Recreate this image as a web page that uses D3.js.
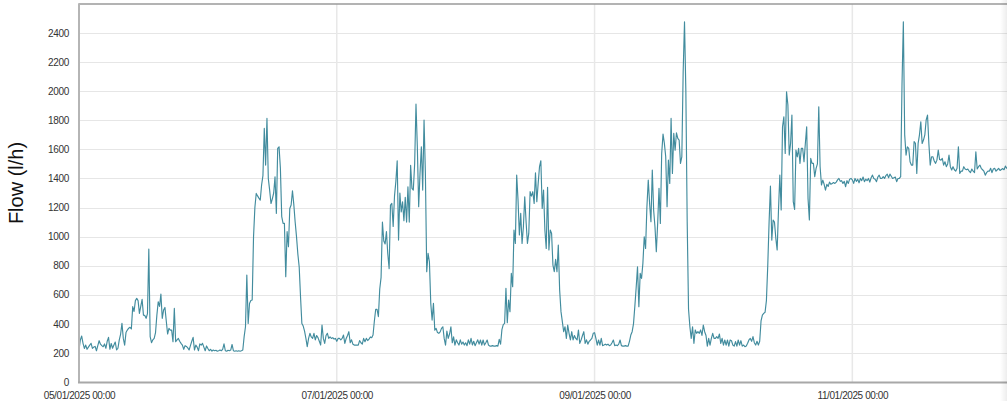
<!DOCTYPE html>
<html><head><meta charset="utf-8">
<script src="https://cdn.jsdelivr.net/npm/d3@7"></script>
<style>
html,body{margin:0;padding:0;background:#fff;overflow:hidden;}
svg{display:block;font-family:"Liberation Sans",Arial,sans-serif;}
</style>
</head><body>
<svg id="chart" width="1007" height="401"></svg>
<script>
// ---- data: flow in l/h, one value every 15 minutes, starting 05/01/2025 00:00 ----
const startDate = new Date(2025, 0, 5, 0, 0);
const intervalMinutes = 15;
const day05 = [220,290,316,266,231,254,225,240,254,266,231,240,245,215,250,284,260,250,243,262,232,280,307,225,265,232,255,275,220,232,290,330,403,300,254,340,357,370,376,365,518,485,560,575,560,472,520,568,460,458,438,470,914,312,270,290,300,340,460,552,520,605,438,495,513,420,330,369,357,357,277,506,277,290,300,280,266,254,225,250,245,235,220,250,280,307,220,254,240,215,262,254,266,240,215,248];
const day06 = [230,215,225,212,220,215,218,212,215,220,215,225,262,215,212,218,215,220,258,215,212,215,212,215,212,215,220,312,380,736,403,540,560,564,1000,1200,1297,1280,1265,1251,1355,1420,1744,1492,1813,1400,1320,1228,1260,1300,1412,1160,1607,1618,1470,1137,1091,1091,724,1034,930,1194,1217,1315,1220,1100,1000,880,793,587,403,385,350,300,243,300,335,310,300,335,290,320,305,280,254,392,300,266,320,335,300,310,300,305,295,300];
const day07 = [280,300,300,290,300,323,266,300,320,346,270,290,260,254,254,254,254,285,270,260,300,277,300,285,295,310,305,323,420,500,500,450,640,720,1100,970,950,1034,880,780,1217,1228,1070,1280,1378,1522,976,1300,1170,1240,1110,1270,1100,1343,1100,1490,1332,1320,1500,1911,1618,1206,1435,1618,1320,1802,1435,759,885,827,541,426,541,357,369,340,335,345,369,380,300,254,350,300,330,380,270,310,254,290,270,254,290,260,275,254];
const day08 = [270,250,290,260,300,255,280,250,270,290,260,289,254,289,254,270,289,254,247,247,250,247,247,250,247,293,260,360,395,403,644,408,564,483,747,655,1045,953,1423,1251,1011,1160,953,1068,1274,1102,953,1022,1309,1279,1309,1228,1439,1240,1366,1481,1522,1194,1320,1045,919,1339,908,1045,1022,804,759,843,759,942,633,484,415,346,380,300,392,335,289,346,290,320,300,289,357,266,290,320,346,266,290,260,280,289,300,335];
const day09 = [339,300,254,289,254,300,250,254,260,254,260,250,254,270,289,250,254,250,260,289,250,247,247,250,247,247,280,323,346,400,520,650,793,518,747,713,816,999,919,1206,1389,1228,1102,1458,1183,1068,896,1091,1332,1091,1572,1705,1641,1549,1206,1526,1366,1813,1435,1710,1595,1714,1675,1664,1504,1549,2134,2478,2000,1100,500,380,300,380,266,358,335,346,335,358,320,392,346,320,247,300,254,300,335,300,300,312,300,330,266,300];
const day10 = [254,289,254,289,247,289,284,254,247,278,247,289,254,284,247,254,243,247,266,289,300,280,312,270,254,280,254,280,420,460,472,480,560,800,1100,1348,976,1114,1100,990,908,1183,1423,1183,1756,1824,1572,1996,1905,1561,1641,1836,1240,1187,1595,1549,1607,1504,1607,1607,1515,1641,1756,1263,1114,1538,1504,1504,1412,1469,1500,1893,1481,1355,1389,1360,1320,1360,1345,1375,1360,1366,1372,1366,1375,1390,1400,1380,1385,1366,1380,1343,1385,1366,1395,1400];
const day11 = [1390,1366,1400,1380,1395,1370,1400,1385,1410,1378,1395,1385,1400,1375,1405,1423,1400,1395,1378,1410,1423,1400,1400,1412,1400,1420,1430,1405,1430,1415,1400,1405,1410,1378,1400,1400,1412,2050,2478,1700,1561,1618,1607,1515,1492,1492,1653,1641,1435,1641,1700,1790,1641,1664,1700,1802,1836,1641,1492,1549,1549,1520,1504,1526,1595,1530,1526,1538,1492,1515,1481,1500,1561,1481,1458,1481,1460,1450,1470,1618,1435,1450,1450,1481,1465,1460,1465,1450,1440,1465,1450,1440,1584,1465,1481,1492];
const day12 = [1470,1460,1450,1423,1440,1450,1450,1470,1440,1465,1470,1450,1460,1470,1455,1462,1468,1460,1485,1470,1475];

const yTicks = [0,200,400,600,800,1000,1200,1400,1600,1800,2000,2200,2400];
const yMax = 2600;
const xTickLabels = ["05/01/2025 00:00","07/01/2025 00:00","09/01/2025 00:00","11/01/2025 00:00"];
const xTickDates = [new Date(2025,0,5), new Date(2025,0,7), new Date(2025,0,9), new Date(2025,0,11)];
const yTitle = "Flow (l/h)";
const visibleDays = 7.2;

// ---- build ----
const flow = [].concat(day05, day06, day07, day08, day09, day10, day11, day12);
const points = flow.map((v, i) => ({ t: new Date(startDate.getTime() + i * intervalMinutes * 60000), v }));

const W = 1007, H = 401;
const plot = { left: 79, right: 1007, top: 4, bottom: 382 };

const svg = d3.select("#chart");

const x = d3.scaleTime()
  .domain([startDate, new Date(startDate.getTime() + visibleDays * 86400000)])
  .range([plot.left, plot.right]);
const y = d3.scaleLinear().domain([0, yMax]).range([plot.bottom, plot.top]);

const defs = svg.append("defs");
defs.append("clipPath").attr("id", "clip")
  .append("rect").attr("x", plot.left).attr("y", plot.top)
  .attr("width", plot.right - plot.left).attr("height", plot.bottom - plot.top);

const grad = defs.append("linearGradient").attr("id", "shadow")
  .attr("x1", "0").attr("x2", "1").attr("y1", "0").attr("y2", "0");
grad.append("stop").attr("offset", "0").attr("stop-color", "#000").attr("stop-opacity", 0);
grad.append("stop").attr("offset", "1").attr("stop-color", "#000").attr("stop-opacity", 0.07);

// horizontal grid
svg.append("g").selectAll("line").data(yTicks.filter(d => d > 0)).join("line")
  .attr("x1", plot.left).attr("x2", plot.right)
  .attr("y1", d => Math.round(y(d)) + 0.5).attr("y2", d => Math.round(y(d)) + 0.5)
  .attr("stroke", "#e6e6e6").attr("stroke-width", 1.2);

// vertical grid
svg.append("g").selectAll("line").data(xTickDates.slice(1)).join("line")
  .attr("x1", d => x(d)).attr("x2", d => x(d))
  .attr("y1", plot.top).attr("y2", plot.bottom)
  .attr("stroke", "#e8e8e8").attr("stroke-width", 1.5);

// line
const line = d3.line().x(d => x(d.t)).y(d => y(d.v));
svg.append("path").datum(points)
  .attr("clip-path", "url(#clip)")
  .attr("fill", "none")
  .attr("stroke", "#428c9e")
  .attr("stroke-width", 1.15)
  .attr("stroke-linejoin", "round")
  .attr("d", line);

// frame lines
svg.append("line").attr("x1", plot.left).attr("x2", plot.right).attr("y1", plot.top).attr("y2", plot.top)
  .attr("stroke", "#9a9a9a").attr("stroke-width", 1.6);
svg.append("line").attr("x1", plot.left).attr("x2", plot.left).attr("y1", plot.top - 0.8).attr("y2", plot.bottom + 1)
  .attr("stroke", "#b5b5b5").attr("stroke-width", 2);
svg.append("line").attr("x1", plot.left - 1).attr("x2", plot.right).attr("y1", plot.bottom + 0.5).attr("y2", plot.bottom + 0.5)
  .attr("stroke", "#a8a8a8").attr("stroke-width", 2);

const labelFont = '"Liberation Sans",Arial,sans-serif';

// y axis labels
const yAxis = d3.axisLeft(y).tickValues(yTicks).tickSize(0).tickPadding(10).tickFormat(d3.format("d"));
const gy = svg.append("g").attr("transform", `translate(${plot.left},0)`).call(yAxis);
gy.select(".domain").remove();
gy.selectAll("text").attr("font-size", 10).attr("letter-spacing", "-0.3px").attr("fill", "#333").attr("font-family", labelFont);

// x axis labels
const xAxis = d3.axisBottom(x).tickValues(xTickDates).tickSize(0).tickPadding(9.5)
  .tickFormat((d, i) => xTickLabels[i]);
const gx = svg.append("g").attr("transform", `translate(0,${plot.bottom})`).call(xAxis);
gx.select(".domain").remove();
gx.selectAll("text").attr("font-size", 10).attr("letter-spacing", "-0.4px").attr("fill", "#333").attr("font-family", labelFont);

// y title
svg.append("text")
  .attr("transform", "translate(16,183) rotate(-90)")
  .attr("text-anchor", "middle").attr("dominant-baseline", "central")
  .attr("font-size", 20).attr("fill", "#111")
  .text(yTitle);

// right edge shadow
svg.append("rect").attr("x", W - 7).attr("y", 0).attr("width", 7).attr("height", H).attr("fill", "url(#shadow)");
</script>
</body></html>
